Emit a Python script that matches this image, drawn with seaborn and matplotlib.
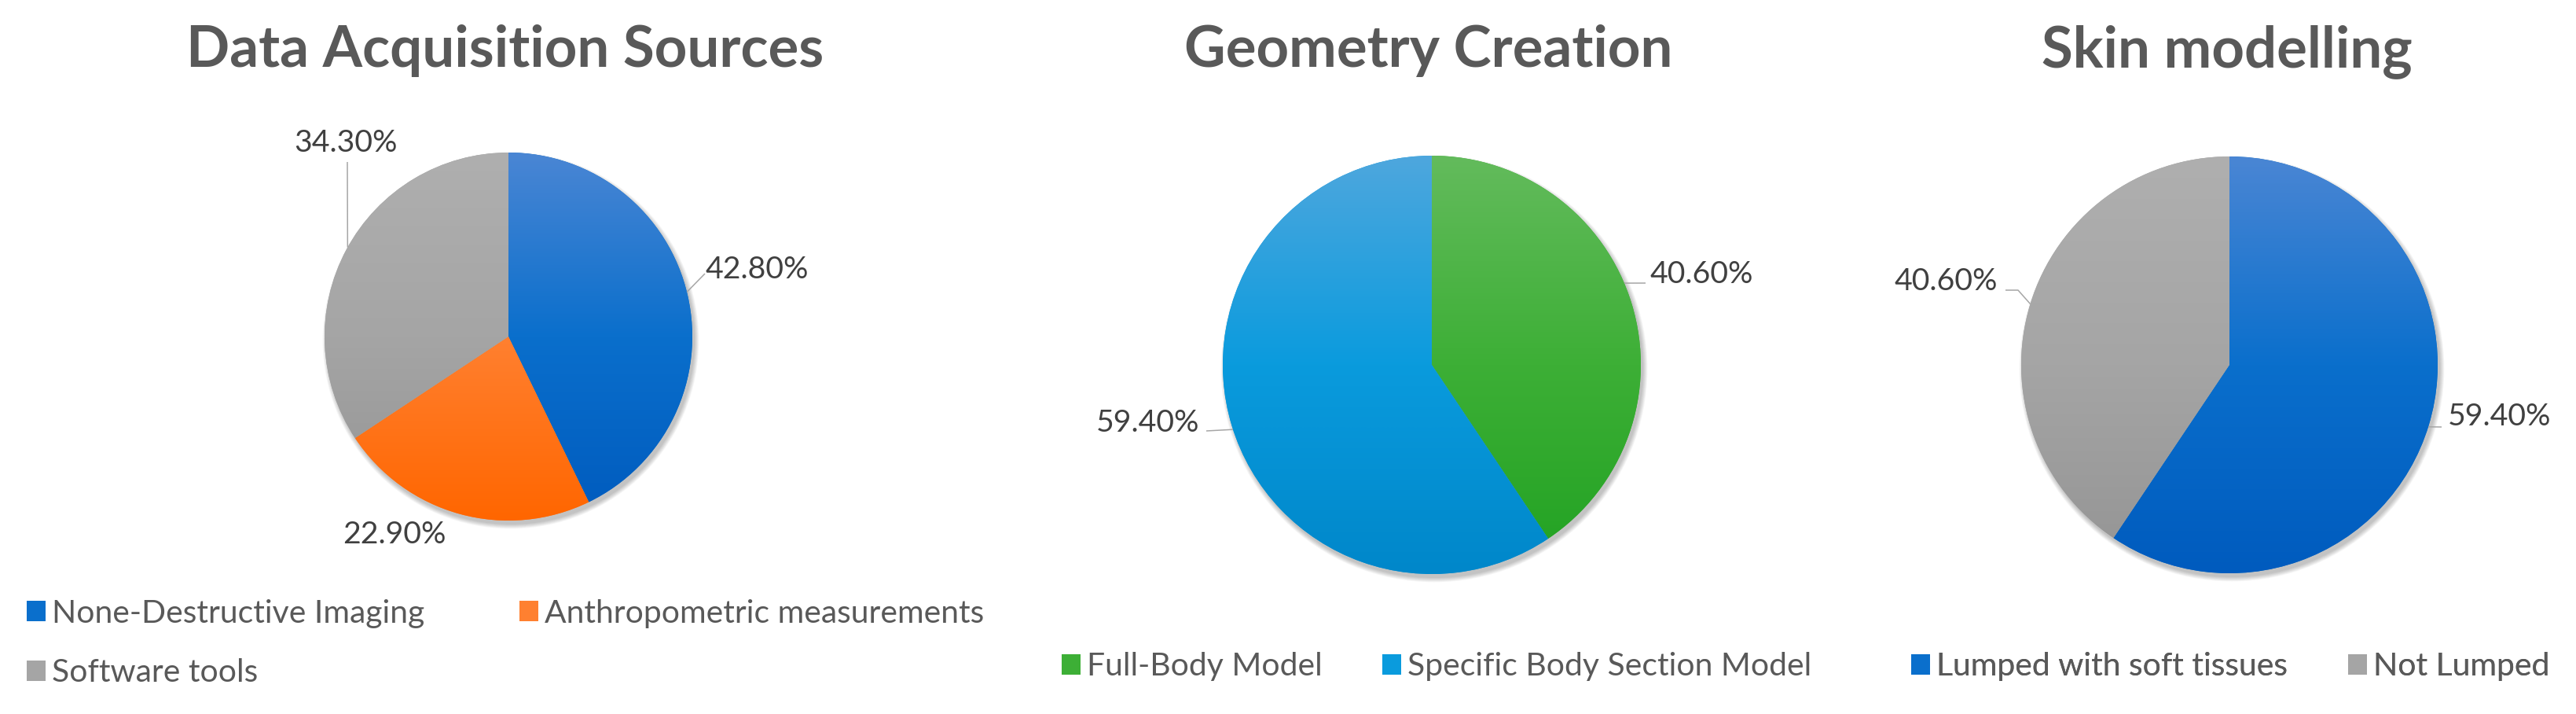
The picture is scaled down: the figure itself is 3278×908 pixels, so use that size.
import numpy as np
import matplotlib
matplotlib.use("Agg")
import matplotlib.pyplot as plt
import seaborn as sns
from matplotlib.patches import Circle, Patch

# ---------------- data ----------------
titles = ["Data Acquisition Sources", "Geometry Creation", "Skin modelling"]

acq_labels = ["None-Destructive Imaging", "Anthropometric measurements", "Software tools"]
acq_values = [42.8, 22.9, 34.3]

geo_labels = ["Full-Body Model", "Specific Body Section Model"]
geo_values = [40.6, 59.4]

skin_labels = ["Lumped with soft tissues", "Not Lumped"]
skin_values = [59.4, 40.6]

# ---------------- style ----------------
W, H, DPI = 3278, 908, 100
sns.set_theme(style="white")
FONT = ["Lato", "DejaVu Sans"]
plt.rcParams["font.family"] = FONT

TITLE_C = "#595959"
LABEL_C = "#404040"
LEGEND_C = "#595959"
LEADER_C = "#A6A6A6"

# gradient stops (top, mid, bottom)
BLUE = ("#4A86D4", "#0A6FCC", "#005BBE")
ORANGE = ("#FF9D55", "#FF8030", "#FF6600")
GRAY = ("#AFAFAF", "#A5A5A5", "#949494")
GREEN = ("#63BB5C", "#3DAF36", "#21A222")
LBLUE = ("#4EA7DE", "#0A9BDD", "#0087CA")

fig = plt.figure(figsize=(W / DPI, H / DPI), dpi=DPI)
ax = fig.add_axes([0, 0, 1, 1])
renderer = fig.canvas.get_renderer()


def Y(y_img):
    return H - y_img


def px(pt):
    return pt * DPI / 72.0


def fit_size(s, target_px, weight="normal"):
    t = fig.text(0, 0, s, fontsize=100, family=FONT, weight=weight)
    w = t.get_window_extent(renderer).width
    t.remove()
    return 100.0 * target_px / w


def text_w(s, size, weight="normal"):
    t = fig.text(0, 0, s, fontsize=size, family=FONT, weight=weight)
    w = t.get_window_extent(renderer).width
    t.remove()
    return w


title_fs = fit_size(titles[0], 811, "bold")
label_fs = fit_size("42.80%", 132)
legend_fs = fit_size(acq_labels[0], 474)

# layout for each pie: center (img coords), radius
pies = [
    dict(values=acq_values, labels=acq_labels, grads=[BLUE, ORANGE, GRAY],
         c=(647, 428), r=234, title_x=643,
         texts=[(898, 354, "left"), (502, 691, "center"), (440, 193, "center")],
         leaders=[(14, [(897, 348)]), None, (151, [(442, 206)])],
         legend=dict(x=34, y=818, order=[0, 2, 1], m2=661)),
    dict(values=geo_values, labels=geo_labels, grads=[GREEN, LBLUE],
         c=(1822, 464), r=266, title_x=1818,
         texts=[(2099, 360, "left"), (1526, 549, "right")],
         leaders=[(23, [(2094, 360)]), (198, [(1535, 548)])],
         legend=dict(x=1351, y=848, order=[0, 1], m2=1759)),
    dict(values=skin_values, labels=skin_labels, grads=[BLUE, GRAY],
         c=(2837, 464), r=265, title_x=2834,
         texts=[(3115, 541, "left"), (2542, 369, "right")],
         leaders=[(-17.3, [(3107, 543)]), (163, [(2568, 369), (2552, 369)])],
         legend=dict(x=2432, y=848, order=[0, 1], m2=2988)),
]

fs_px = px(legend_fs)
hlen = 24 / fs_px
hpad = 8 / fs_px

for idx, p in enumerate(pies):
    cx, cy = p["c"][0], Y(p["c"][1])
    r = p["r"]
    mids = [g[1] for g in p["grads"]]

    # soft drop shadow
    for k in range(7):
        ax.add_patch(Circle((cx + 3, cy - 5), r + k * 0.9, color="black",
                            alpha=0.035, lw=0, zorder=0.5))

    wedges, _ = ax.pie(p["values"], colors=mids, startangle=90, counterclock=False,
                       center=(cx, cy), radius=r, wedgeprops=dict(linewidth=0))

    grad = np.linspace(0, 1, 256).reshape(-1, 1)
    for w, g in zip(wedges, p["grads"]):
        w.set_zorder(1)
        cmap = sns.blend_palette([g[2], g[1], g[0]], n_colors=256, as_cmap=True)
        im = ax.imshow(grad, extent=(cx - r, cx + r, cy - r, cy + r), origin="lower",
                       cmap=cmap, aspect="auto", interpolation="bilinear", zorder=1.1)
        im.set_clip_path(w)

    # data labels
    for v, (tx, ty, ha) in zip(p["values"], p["texts"]):
        ax.text(tx, Y(ty), f"{v:.2f}%", fontsize=label_fs, color=LABEL_C,
                ha=ha, va="baseline", zorder=3)

    # leader lines
    for ld in p["leaders"]:
        if ld is None:
            continue
        ang, pts = ld
        a = np.deg2rad(ang)
        xs = [cx + r * np.cos(a)] + [q[0] for q in pts]
        ys = [cy + r * np.sin(a)] + [Y(q[1]) for q in pts]
        ax.plot(xs, ys, color=LEADER_C, lw=1.1, zorder=2, solid_capstyle="butt")

    # title
    ax.text(p["title_x"], Y(85), titles[idx], fontsize=title_fs,
            weight="bold", color=TITLE_C, ha="center", va="baseline")

    # legend
    lg = p["legend"]
    handles = [Patch(facecolor=p["grads"][i][1], edgecolor="none", label=p["labels"][i])
               for i in lg["order"]]
    first_w = text_w(p["labels"][0], legend_fs)
    text_start = lg["x"] + 24 + 8
    colsp = (lg["m2"] - (text_start + first_w)) / fs_px
    leg = ax.legend(handles=handles, ncol=2, loc="center left",
                    bbox_to_anchor=(lg["x"] / W, 1 - lg["y"] / H),
                    bbox_transform=fig.transFigure, frameon=False,
                    fontsize=legend_fs, handlelength=hlen, handleheight=25 / fs_px,
                    handletextpad=hpad, columnspacing=colsp, borderpad=0,
                    borderaxespad=0, labelspacing=0.95, labelcolor=LEGEND_C)
    ax.add_artist(leg)

ax.set_xlim(0, W)
ax.set_ylim(0, H)
ax.set_aspect("equal")
ax.axis("off")

fig.savefig("out.png", dpi=DPI, facecolor="white")
